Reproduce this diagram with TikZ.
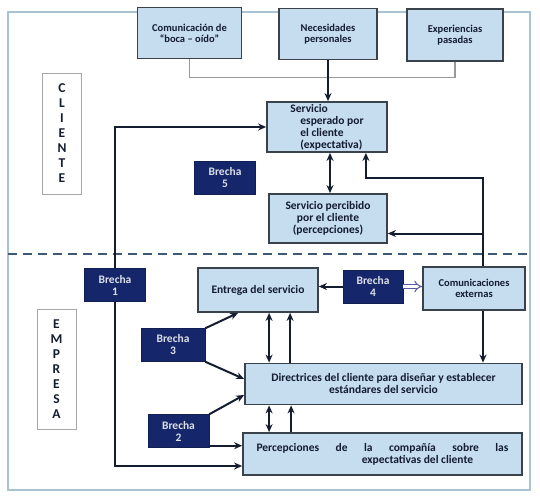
\documentclass[tikz,border=0pt]{standalone}
\usepackage{fontspec}
\setmainfont{Carlito}
\usepackage{xcolor}
\usetikzlibrary{arrows.meta}

\definecolor{boxfill}{HTML}{C6DCEF}
\definecolor{boxline}{HTML}{3A424C}
\definecolor{navy}{HTML}{15276A}
\definecolor{framecol}{HTML}{A9C3D3}
\definecolor{textcol}{HTML}{141C30}
\definecolor{dashcol}{HTML}{3C5A78}

\begin{document}
\begin{tikzpicture}[
    x=1pt, y=-1pt,
    every node/.style={align=center, font=\bfseries\fontsize{11.5}{12}\selectfont, text=textcol, inner sep=1pt},
    box/.style={draw=boxline, line width=1.8pt, fill=boxfill},
    small/.style={font=\bfseries\fontsize{10.5}{11}\selectfont},
    brecha/.style={fill=navy, draw=navy!80!black, text=white!85!navy, minimum width=61pt, minimum height=33pt},
    side/.style={draw=gray!70, line width=0.9pt, fill=white, minimum width=39pt, font=\bfseries\fontsize{13.5}{15}\selectfont},
    arrow/.style={-{Stealth[length=8pt,width=7pt]}, line width=2pt, draw=textcol},
    twoway/.style={{Stealth[length=8pt,width=7pt]}-{Stealth[length=8pt,width=7pt]}, line width=2pt, draw=textcol},
    thinline/.style={draw=gray!80, line width=1.1pt}
]
\useasboundingbox (0,0) rectangle (540,497);

% Frame and boundary
\draw[framecol, line width=1.1pt] (8,12) rectangle (530,490);
\draw[dashcol, line width=1.8pt, dash pattern=on 9pt off 6pt] (8,254) -- (530,254);

% Nodes
\node[box, small, minimum width=104pt, minimum height=51pt] (boca) at (189.5,33) {Comunicación de\\``boca -- oído''};
\node[box, small, minimum width=98pt, minimum height=51pt] (necesidades) at (328,34) {Necesidades\\personales};
\node[box, small, minimum width=96pt, minimum height=52pt] (experiencias) at (455,35) {Experiencias\\pasadas};
\node[box, minimum width=120pt, minimum height=50pt, align=left] (esperado) at (327,127) {Servicio\\\hspace*{10pt}esperado por\\\hspace*{10pt}el cliente\\\hspace*{10pt}(expectativa)};
\node[box, minimum width=118pt, minimum height=49pt] (percibido) at (328,218.5) {Servicio percibido\\por el cliente\\(percepciones)};
\node[side, minimum height=121pt] (cliente) at (62,133.5) {C\\L\\I\\E\\N\\T\\E};
\node[brecha] (brecha5) at (225,178) {Brecha\\5};
\node[brecha] (brecha1) at (115,285) {Brecha\\1};
\node[box, minimum width=120pt, minimum height=44pt] (entrega) at (258,290) {Entrega del servicio};
\node[brecha, minimum width=60pt] (brecha4) at (373,286.5) {Brecha\\4};
\node[box, small, minimum width=102pt, minimum height=43pt] (comunic) at (474,288.5) {Comunicaciones\\externas};
\node[side, minimum height=120pt] (empresa) at (56.5,369) {E\\M\\P\\R\\E\\S\\A};
\node[brecha, minimum width=64pt] (brecha3) at (173,345) {Brecha\\3};
\node[box, minimum width=277pt, minimum height=41pt] (directrices) at (383.5,384) {Directrices del cliente para diseñar y establecer\\estándares del servicio};
\node[brecha] (brecha2) at (178.5,431) {Brecha\\2};
\node[box, minimum width=279pt, minimum height=42pt] (percepciones) at (382.5,454) {\makebox[252pt]{Percepciones\hfill de\hfill la\hfill compañía\hfill sobre\hfill las}\\\hspace*{70pt}expectativas del cliente};

\coordinate (cup) at ([xshift=9pt]comunic.north);

% Edges
\draw[thinline] (boca.south) -- ++(0,18) -| (experiencias.south);
\draw[arrow] (necesidades.south) -- (necesidades.south |- esperado.north);
\draw[twoway] ([xshift=3pt]esperado.south) -- ([xshift=3pt]esperado.south |- percibido.north);
\draw[arrow] (brecha1.north) |- (esperado.west);
\draw[arrow] (brecha1.south) |- ([yshift=-12pt]percepciones.west);
\draw[arrow] (cup) -- ++(0,-88) -| ([xshift=-22pt]esperado.south east);
\draw[arrow] ([yshift=-15pt]percibido.east -| cup) -- ([yshift=-15pt]percibido.east);
\draw[arrow] (cup |- comunic.south) -- (cup |- directrices.north);
\draw[arrow] (brecha4.west) -- (entrega.east |- brecha4.west);
\draw[double=white, draw=gray!70!blue, double distance=3pt, line width=1pt, -{Implies}] (brecha4.east) -- (comunic.west |- brecha4.east);
\draw[twoway] ([xshift=72pt]entrega.south west) -- ([xshift=72pt]entrega.south west |- directrices.north);
\draw[arrow] ([xshift=93pt]entrega.south west |- directrices.north) -- ([xshift=93pt]entrega.south west);
\draw[twoway] ([xshift=25pt]directrices.south west) -- ([xshift=25pt]directrices.south west |- percepciones.north);
\draw[arrow] ([xshift=47pt]directrices.south west |- percepciones.north) -- ([xshift=47pt]directrices.south west);
\draw[arrow] (brecha3.north east) -- ([xshift=41pt]entrega.south west);
\draw[arrow] (brecha3.south east) -- ([yshift=5pt]directrices.west);
\draw[arrow] (brecha2.north east) -- ([yshift=-11pt]directrices.west);
\draw[arrow] ([yshift=2pt]brecha2.south east) -- ([yshift=2pt]brecha2.south east -| percepciones.west);

\end{tikzpicture}
\end{document}
